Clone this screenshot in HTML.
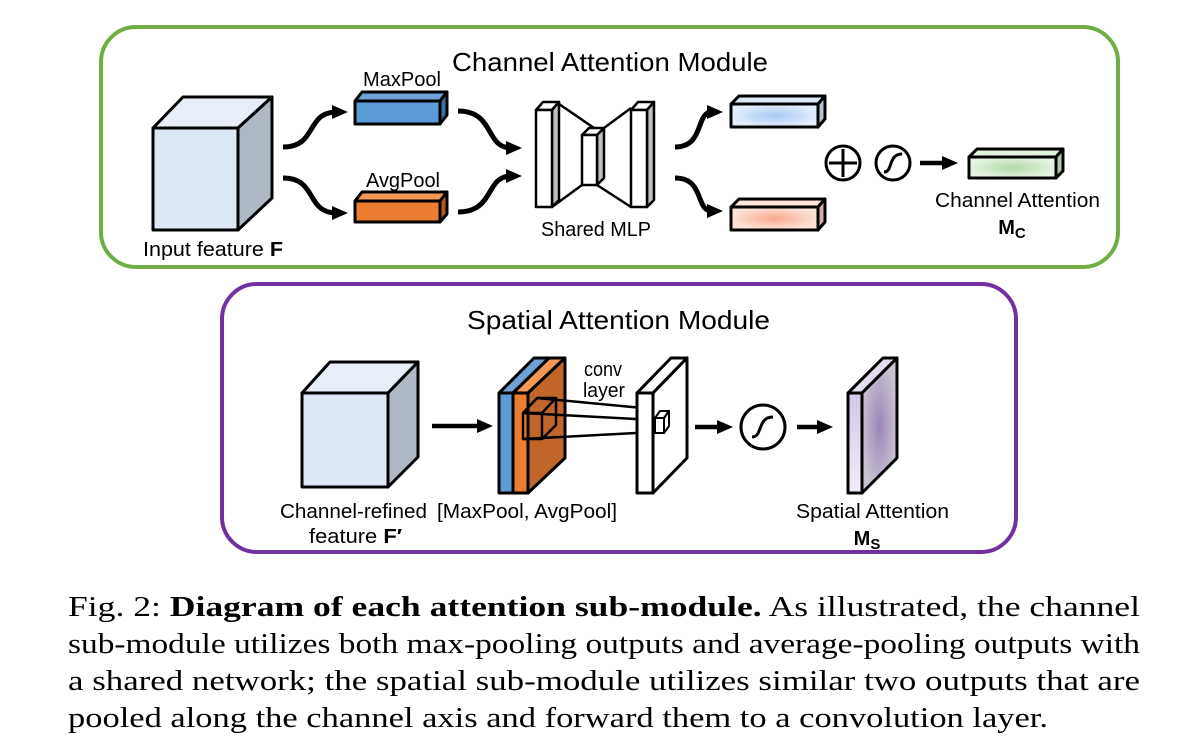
<!DOCTYPE html>
<html><head><meta charset="utf-8"><style>
html,body{margin:0;padding:0;background:#fff;width:1178px;height:751px;overflow:hidden}
svg{display:block}
.s{font-family:"Liberation Sans",sans-serif;fill:#000}
.c{font-family:"Liberation Serif",serif;font-size:28px;fill:#000}
</style></head><body>
<svg width="1178" height="751" viewBox="0 0 1178 751" xmlns="http://www.w3.org/2000/svg">
<defs>
<marker id="ah" markerWidth="16" markerHeight="16" refX="5" refY="8" orient="auto" markerUnits="userSpaceOnUse"><path d="M0,1 L16,8 L0,15 Z" fill="#000"/></marker>
<radialGradient id="gb"><stop offset="0" stop-color="#a9c8f2"/><stop offset="1" stop-color="#e4eefb"/></radialGradient>
<radialGradient id="gp"><stop offset="0" stop-color="#f9a88a"/><stop offset="1" stop-color="#fde3da"/></radialGradient>
<radialGradient id="gg"><stop offset="0" stop-color="#b2d9a8"/><stop offset="1" stop-color="#e6f3e2"/></radialGradient>
<radialGradient id="gv"><stop offset="0" stop-color="#9a86b6"/><stop offset="1" stop-color="#c9c2d1"/></radialGradient>
<linearGradient id="gv2" x1="0" x2="0" y1="0" y2="1"><stop offset="0" stop-color="#d4c6e8"/><stop offset="1" stop-color="#f1ecf7"/></linearGradient>
</defs>
<g stroke-linejoin="round">
<rect x="101" y="27" width="1017" height="240" rx="35" fill="none" stroke="#70ad47" stroke-width="4"/>
<text class="s" x="452" y="71" font-size="26" textLength="316" lengthAdjust="spacingAndGlyphs">Channel Attention Module</text>
<g stroke="#000" stroke-width="3">
<polygon points="153,128 183,97 272,97 238,128" fill="#e8eef7"/>
<polygon points="238,128 272,97 272,198 238,230" fill="#afb9c5"/>
<rect x="153" y="128" width="85" height="102" fill="#dde8f5"/>
</g>
<text class="s" x="143" y="256" font-size="20" textLength="140" lengthAdjust="spacingAndGlyphs">Input feature <tspan font-weight="bold">F</tspan></text>
<g stroke="#000" stroke-width="3">
<polygon points="355,101 362,92 447,92 440,101" fill="#6fa0d6"/>
<polygon points="440,101 447,92 447,115 440,124" fill="#3e6fa8"/>
<rect x="355" y="101" width="85" height="23" fill="#5b9bd5"/>
<polygon points="355,201 362,192 447,192 440,201" fill="#f29a55"/>
<polygon points="440,201 447,192 447,214 440,222" fill="#b6581f"/>
<rect x="355" y="201" width="85" height="21" fill="#ed7d31"/>
</g>
<text class="s" x="363" y="86" font-size="20" textLength="78" lengthAdjust="spacingAndGlyphs">MaxPool</text>
<text class="s" x="366" y="187" font-size="20" textLength="74" lengthAdjust="spacingAndGlyphs">AvgPool</text>
<g fill="none" stroke="#000" stroke-width="5" marker-end="url(#ah)">
<path d="M283,147 C318,147 305,112 337,112"/>
<path d="M283,178 C318,178 305,213 337,213"/>
<path d="M458,111 C495,111 485,148 511,148"/>
<path d="M458,212 C495,212 485,176 511,176"/>
<path d="M675,147 C705,147 695,112 712,112"/>
<path d="M675,178 C705,178 695,211 712,211"/>
</g>
<g stroke="#000" stroke-width="2.5" fill="#fff">
<line x1="559" y1="104" x2="597" y2="130"/>
<line x1="552" y1="207" x2="582" y2="185"/>
<line x1="604" y1="128" x2="631" y2="108"/>
<line x1="597" y1="185" x2="631" y2="207"/>
<polygon points="536,110 543,102 559,102 552,110"/>
<polygon points="552,110 559,102 559,200 552,207" fill="#bfbfbf"/>
<rect x="536" y="110" width="16" height="97"/>
<polygon points="582,135 589,128 604,128 597,135"/>
<polygon points="597,135 604,128 604,178 597,185" fill="#bfbfbf"/>
<rect x="582" y="135" width="15" height="50"/>
<polygon points="631,110 638,102 654,102 647,110"/>
<polygon points="647,110 654,102 654,200 647,207" fill="#bfbfbf"/>
<rect x="631" y="110" width="16" height="97"/>
</g>
<text class="s" x="541" y="236" font-size="20" textLength="110" lengthAdjust="spacingAndGlyphs">Shared MLP</text>
<g stroke="#000" stroke-width="3">
<polygon points="731,104 739,96 825,96 818,104" fill="#dde8f7"/>
<polygon points="818,104 825,96 825,119 818,127" fill="#b7c3d4"/>
<rect x="731" y="104" width="87" height="23" fill="url(#gb)"/>
<polygon points="731,207 739,199 825,199 818,207" fill="#fde5dc"/>
<polygon points="818,207 825,199 825,222 818,230" fill="#d2b0a7"/>
<rect x="731" y="207" width="87" height="23" fill="url(#gp)"/>
<polygon points="969,157 977,149 1063,149 1056,157" fill="#e3f1df"/>
<polygon points="1056,157 1063,149 1063,171 1056,178" fill="#b8c9b2"/>
<rect x="969" y="157" width="87" height="21" fill="url(#gg)"/>
</g>
<g stroke="#000" stroke-width="3" fill="none">
<circle cx="843" cy="163" r="17"/>
<line x1="843" y1="149" x2="843" y2="177"/><line x1="829" y1="163" x2="857" y2="163"/>
<circle cx="893" cy="163" r="17"/>
<path d="M884,172 C893,172 888,154 902,154"/>
<line x1="920" y1="163" x2="947" y2="163" stroke-width="4.5" marker-end="url(#ah)"/>
</g>
<text class="s" x="935" y="207" font-size="20" textLength="165" lengthAdjust="spacingAndGlyphs">Channel Attention</text>
<text class="s" x="1012" y="234" font-size="20" font-weight="bold" text-anchor="middle">M<tspan font-size="15" dy="4">C</tspan></text>

<rect x="222" y="284" width="794" height="268" rx="35" fill="none" stroke="#7030a0" stroke-width="4"/>
<text class="s" x="467" y="329" font-size="26" textLength="303" lengthAdjust="spacingAndGlyphs">Spatial Attention Module</text>
<g stroke="#000" stroke-width="3">
<polygon points="302,393 330,362 418,362 388,393" fill="#e8eef7"/>
<polygon points="388,393 418,362 418,457 388,487" fill="#afb9c5"/>
<rect x="302" y="393" width="86" height="94" fill="#dde8f5"/>
</g>
<line x1="432" y1="426" x2="482" y2="426" stroke="#000" stroke-width="4.5" marker-end="url(#ah)"/>
<g stroke="#000" stroke-width="3">
<polygon points="499,393 534,358 549,358 513,393" fill="#6fa0d6"/>
<polygon points="513,393 549,358 565,358 528,393" fill="#f29a55"/>
<polygon points="528,393 565,358 565,458 528,493" fill="#c0662a"/>
<rect x="499" y="393" width="14" height="100" fill="#5b9bd5"/>
<rect x="513" y="393" width="15" height="100" fill="#ed7d31"/>
</g>
<g stroke="#000" stroke-width="2.5" fill="none">
<rect x="523" y="413" width="19" height="26"/>
<polyline points="523,413 537,398 556,398 556,425 542,439"/>
<line x1="542" y1="413" x2="556" y2="398"/>
<line x1="537" y1="398" x2="663" y2="410"/>
<line x1="523" y1="413" x2="655" y2="420"/>
<line x1="523" y1="439" x2="655" y2="432"/>
</g>
<g stroke="#000" stroke-width="3" fill="#fff">
<polygon points="637,393 671,358 687,358 653,393"/>
<polygon points="653,393 687,358 687,458 653,493"/>
<rect x="637" y="393" width="16" height="100"/>
</g>
<g stroke="#000" stroke-width="2" fill="#fff">
<rect x="655" y="418" width="9" height="15"/>
<polygon points="655,418 660,411 669,411 664,418"/>
<polygon points="664,418 669,411 669,426 664,433"/>
</g>
<text class="s" x="584" y="376" font-size="20" textLength="38" lengthAdjust="spacingAndGlyphs">conv</text>
<text class="s" x="583" y="397" font-size="20" textLength="42" lengthAdjust="spacingAndGlyphs">layer</text>
<line x1="695" y1="427" x2="722" y2="427" stroke="#000" stroke-width="4.5" marker-end="url(#ah)"/>
<circle cx="763" cy="427" r="22" fill="none" stroke="#000" stroke-width="3"/>
<path d="M752,437 C763,437 757,417 773,417" fill="none" stroke="#000" stroke-width="3"/>
<line x1="797" y1="427" x2="822" y2="427" stroke="#000" stroke-width="4.5" marker-end="url(#ah)"/>
<g stroke="#000" stroke-width="3">
<polygon points="848,393 883,358 897,358 862,393" fill="#e4dcef"/>
<polygon points="862,393 897,358 897,458 862,493" fill="url(#gv)"/>
<rect x="848" y="393" width="14" height="100" fill="url(#gv2)"/>
</g>
<text class="s" x="280" y="518" font-size="20" textLength="147" lengthAdjust="spacingAndGlyphs">Channel-refined</text>
<text class="s" x="309" y="543" font-size="20" textLength="93" lengthAdjust="spacingAndGlyphs">feature <tspan font-weight="bold">F′</tspan></text>
<text class="s" x="437" y="518" font-size="20" textLength="180" lengthAdjust="spacingAndGlyphs">[MaxPool, AvgPool]</text>
<text class="s" x="796" y="518" font-size="20" textLength="153" lengthAdjust="spacingAndGlyphs">Spatial Attention</text>
<text class="s" x="867" y="545" font-size="20" font-weight="bold" text-anchor="middle">M<tspan font-size="15" dy="4">S</tspan></text>
</g>
<text class="c" x="68" y="616" textLength="1072" lengthAdjust="spacingAndGlyphs">Fig. 2: <tspan font-weight="bold">Diagram of each attention sub-module.</tspan> As illustrated, the channel</text>
<text class="c" x="68" y="653" textLength="1072" lengthAdjust="spacingAndGlyphs">sub-module utilizes both max-pooling outputs and average-pooling outputs with</text>
<text class="c" x="68" y="690" textLength="1072" lengthAdjust="spacingAndGlyphs">a shared network; the spatial sub-module utilizes similar two outputs that are</text>
<text class="c" x="68" y="727" textLength="980" lengthAdjust="spacingAndGlyphs">pooled along the channel axis and forward them to a convolution layer.</text>
</svg>
</body></html>
